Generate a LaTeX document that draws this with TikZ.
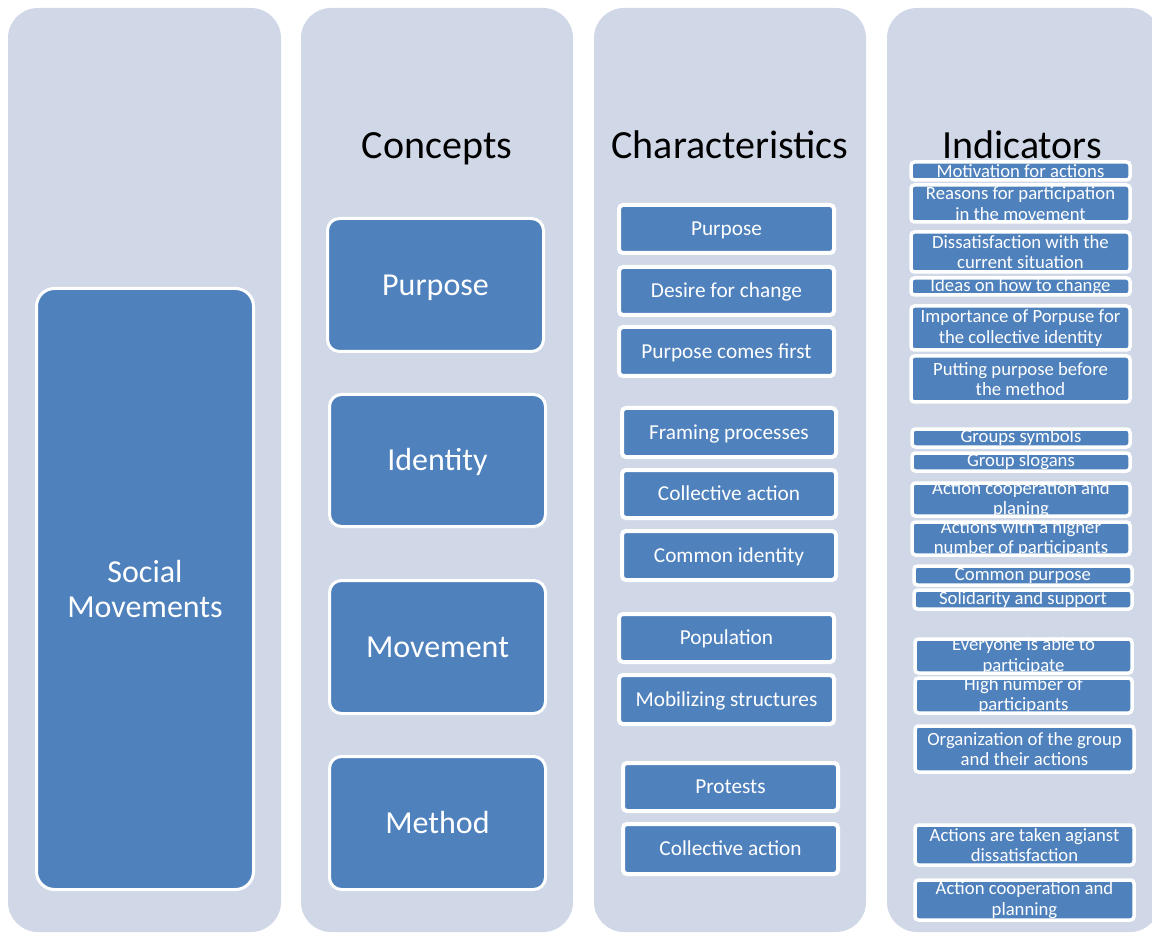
\documentclass[tikz,border=0pt]{standalone}
\usepackage{fontspec}
\setmainfont{Carlito}
\definecolor{colbg}{HTML}{D0D8E8}
\definecolor{boxblue}{HTML}{4F81BD}
\tikzset{
  colbox/.style={fill=colbg, draw=none, rounded corners=30pt},
  bigbox/.style={fill=boxblue, draw=white, line width=3pt, rounded corners=18pt, text=white, inner sep=0pt, align=center, font=\fontsize{32}{35}\selectfont},
  conbox/.style={fill=boxblue, draw=white, line width=3pt, rounded corners=12pt, text=white, inner sep=0pt, align=center, font=\fontsize{32}{35}\selectfont, text height=21pt, text depth=0.4pt},
  chbox/.style={fill=boxblue, draw=white, line width=4pt, rounded corners=4pt, text=white, inner sep=0pt, align=center, font=\fontsize{21.3}{25}\selectfont, text height=14pt, text depth=0.28pt},
  indbox/.style={fill=boxblue, draw=white, line width=3.5pt, rounded corners=3.5pt, inner sep=0pt},
  indtext/.style={text=white, inner sep=0pt, align=center, font=\fontsize{18.7}{20.7}\selectfont},
  header/.style={inner sep=0pt, font=\fontsize{40}{46}\selectfont, text=black, text height=26pt, text depth=0.2pt},
}
\begin{document}
\begin{tikzpicture}[x=1pt, y=-1pt]
\clip (0,0) rectangle (1152,933);
\fill[white] (0,0) rectangle (1152,933);
% columns
\path[colbox] (8,8) rectangle (281,932);
\path[colbox] (301,8) rectangle (573,932);
\path[colbox] (594,8) rectangle (866,932);
\path[colbox] (887,8) rectangle (1160,932);
% headers
\node[header] (hcon) at (437,145.5) {Concepts};
\node[header] (hchar) at (730,145.5) {Characteristics};
\node[header] (hind) at (1022,145.5) {Indicators};
% social movements
\node[bigbox, minimum width=217pt, minimum height=601pt] (sm) at (145,589) {Social\\Movements};
% concepts
\node[conbox, minimum width=216pt, minimum height=133pt] (cpurp) at (435.5,285) {Purpose};
\node[conbox, minimum width=216pt, minimum height=132pt] (cident) at (437.5,460.5) {Identity};
\node[conbox, minimum width=216pt, minimum height=133pt] (cmove) at (437.5,647) {Movement};
\node[conbox, minimum width=216pt, minimum height=133pt] (cmeth) at (437.5,823) {Method};
% characteristics
\node[chbox, minimum width=215pt, minimum height=48pt] (c1) at (726.5,229) {Purpose};
\node[chbox, minimum width=215pt, minimum height=48pt] (c2) at (726.5,291) {Desire for change};
\node[chbox, minimum width=215pt, minimum height=49pt] (c3) at (726.5,351.5) {Purpose comes first};
\node[chbox, minimum width=214pt, minimum height=49pt] (c4) at (729,432.5) {Framing processes};
\node[chbox, minimum width=214pt, minimum height=48pt] (c5) at (729,494) {Collective action};
\node[chbox, minimum width=214pt, minimum height=49pt] (c6) at (729,555.5) {Common identity};
\node[chbox, minimum width=215pt, minimum height=48pt] (c7) at (726.5,638) {Population};
\node[chbox, minimum width=215pt, minimum height=49pt] (c8) at (726.5,699.5) {Mobilizing structures};
\node[chbox, minimum width=215pt, minimum height=48pt] (c9) at (730.5,787) {Protests};
\node[chbox, minimum width=215pt, minimum height=50pt] (c10) at (730.5,849) {Collective action};
% indicators
\node[indbox, minimum width=219pt, minimum height=18pt] (i1) at (1020.5,171) {};
\node[indtext] (i1t) at (i1) {Motivation for actions};
\node[indbox, minimum width=219pt, minimum height=37pt] (i2) at (1020.5,203.5) {};
\node[indtext] (i2t) at (i2) {Reasons for participation\\in the movement};
\node[indbox, minimum width=219pt, minimum height=40pt] (i3) at (1020.5,252) {};
\node[indtext] (i3t) at (i3) {Dissatisfaction with the\\current situation};
\node[indbox, minimum width=219pt, minimum height=17pt] (i4) at (1020.5,286.5) {};
\node[indtext] (i4t) at (i4) {Ideas on how to change};
\node[indbox, minimum width=219pt, minimum height=44pt] (i5) at (1020.5,328) {};
\node[indtext] (i5t) at (i5) {Importance of Porpuse for\\the collective identity};
\node[indbox, minimum width=219pt, minimum height=46pt] (i6) at (1020.5,379) {};
\node[indtext] (i6t) at (i6) {Putting purpose before\\the method};
\node[indbox, minimum width=218pt, minimum height=18pt] (i7) at (1021,438) {};
\node[indtext] (i7t) at (i7) {Groups symbols};
\node[indbox, minimum width=218pt, minimum height=18pt] (i8) at (1021,462) {};
\node[indtext] (i8t) at (i8) {Group slogans};
\node[indbox, minimum width=218pt, minimum height=33pt] (i9) at (1021,499.5) {};
\node[indtext] (i9t) at (i9) {Action cooperation and\\planing};
\node[indbox, minimum width=218pt, minimum height=33pt] (i10) at (1021,538.5) {};
\node[indtext] (i10t) at (i10) {Actions with a higher\\number of participants};
\node[indbox, minimum width=218pt, minimum height=19pt] (i11) at (1023,575.5) {};
\node[indtext] (i11t) at (i11) {Common purpose};
\node[indbox, minimum width=218pt, minimum height=19pt] (i12) at (1023,599.5) {};
\node[indtext] (i12t) at (i12) {Solidarity and support};
\node[indbox, minimum width=217pt, minimum height=34pt] (i13) at (1023.5,656) {};
\node[indtext] (i13t) at (i13) {Everyone is able to\\participate};
\node[indbox, minimum width=217pt, minimum height=35pt] (i14) at (1023.5,695.5) {};
\node[indtext] (i14t) at (i14) {High number of\\participants};
\node[indbox, minimum width=219pt, minimum height=46pt] (i15) at (1024.5,749) {};
\node[indtext] (i15t) at (i15) {Organization of the group\\and their actions};
\node[indbox, minimum width=219pt, minimum height=40pt] (i16) at (1024.5,845) {};
\node[indtext] (i16t) at (i16) {Actions are taken agianst\\dissatisfaction};
\node[indbox, minimum width=219pt, minimum height=40pt] (i17) at (1024.5,900) {};
\node[indtext] (i17t) at (i17) {Action cooperation and\\planning};
\end{tikzpicture}
\end{document}
